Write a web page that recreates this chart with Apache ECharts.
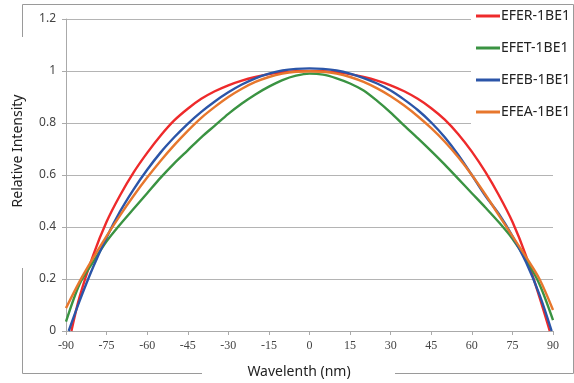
<!DOCTYPE html>
<html>
<head>
<meta charset="utf-8">
<script src="https://cdn.jsdelivr.net/npm/echarts@6/dist/echarts.min.js"></script>
<style>
  html, body { margin: 0; padding: 0; background: #fff; }
  #chart { width: 574px; height: 383px; }
</style>
</head>
<body>
<div id="chart"></div>
<script>
const seriesNames = ["EFER-1BE1", "EFET-1BE1", "EFEB-1BE1", "EFEA-1BE1"];
const colors = ["#ee2a2b", "#3a9342", "#2b55a8", "#e7772d"];

const xTicks = [-90, -75, -60, -45, -30, -15, 0, 15, 30, 45, 60, 75, 90];
const yTicks = [0, 0.2, 0.4, 0.6, 0.8, 1, 1.2];

// wavelength sample points (nm)
const wlStd = [-90, -85, -80, -75, -70, -65, -60, -55, -50, -45, -40, -35, -30, -25, -20, -15, -10, -5, 0,
  5, 10, 15, 20, 25, 30, 35, 40, 45, 50, 55, 60, 65, 70, 75, 80, 85, 90];
const wlRed = [-88, -85, -80, -75, -70, -65, -60, -55, -50, -45, -40, -35, -30, -25, -20, -15, -10, -5, 0,
  5, 10, 15, 20, 25, 30, 35, 40, 45, 50, 55, 60, 65, 70, 75, 80, 85, 88.8];
const wlBlue = [-89, -85, -80, -75, -70, -65, -60, -55, -50, -45, -40, -35, -30, -25, -20, -15, -10, -5, 0,
  5, 10, 15, 20, 25, 30, 35, 40, 45, 50, 55, 60, 65, 70, 75, 80, 85, 89.5];

const efer = [0, 0.13, 0.29, 0.42, 0.522, 0.61, 0.685, 0.752, 0.81, 0.855, 0.893, 0.922, 0.945, 0.963, 0.977, 0.988, 0.995, 0.999, 1.0,
  0.999, 0.995, 0.988, 0.977, 0.963, 0.945, 0.922, 0.893, 0.857, 0.813, 0.757, 0.69, 0.612, 0.522, 0.42, 0.29, 0.13, 0];
const efet = [0.036, 0.18, 0.265, 0.345, 0.41, 0.47, 0.53, 0.59, 0.645, 0.695, 0.745, 0.79, 0.835, 0.875, 0.91, 0.94, 0.965, 0.982, 0.99,
  0.986, 0.972, 0.952, 0.925, 0.885, 0.84, 0.79, 0.742, 0.692, 0.64, 0.585, 0.53, 0.475, 0.418, 0.355, 0.276, 0.18, 0.042];
const efeb = [0, 0.115, 0.245, 0.36, 0.46, 0.545, 0.62, 0.687, 0.745, 0.797, 0.843, 0.883, 0.918, 0.948, 0.972, 0.99, 1.002, 1.008, 1.01,
  1.008, 1.002, 0.99, 0.973, 0.952, 0.925, 0.89, 0.85, 0.802, 0.745, 0.677, 0.6, 0.52, 0.45, 0.365, 0.265, 0.14, 0];
const efea = [0.088, 0.19, 0.28, 0.365, 0.445, 0.52, 0.59, 0.655, 0.715, 0.77, 0.82, 0.862, 0.9, 0.932, 0.958, 0.977, 0.99, 0.997, 0.999,
  0.997, 0.99, 0.977, 0.958, 0.933, 0.903, 0.867, 0.826, 0.78, 0.728, 0.668, 0.6, 0.525, 0.445, 0.365, 0.285, 0.2, 0.081];

const pairs = (xs, ys) => xs.map((x, i) => [x, ys[i]]);
const seriesData = [pairs(wlRed, efer), pairs(wlStd, efet), pairs(wlBlue, efeb), pairs(wlStd, efea)];

const chart = echarts.init(document.getElementById("chart"));

const borderStyle = { stroke: "#9a9a9a", lineWidth: 1 };
const seg = (x1, y1, x2, y2) => ({ type: "line", z: 100, shape: { x1, y1, x2, y2 }, style: borderStyle });

chart.setOption({
  backgroundColor: "#fff",
  animation: false,
  color: colors,
  grid: { left: 66, right: 21, top: 19, bottom: 52 },
  legend: {
    orient: "vertical",
    left: 471,
    top: 5,
    padding: [2, 3, 14, 5],
    backgroundColor: "#fff",
    icon: "rect",
    itemWidth: 24,
    itemHeight: 3,
    itemGap: 14,
    z: 50,
    textStyle: { fontFamily: "Noto Sans", fontSize: 14, lineHeight: 18, color: "#222", padding: [0, 0, 0, -4] },
    data: seriesNames
  },
  xAxis: {
    type: "value",
    min: -90,
    max: 90,
    interval: 15,
    axisLine: { lineStyle: { color: "#aaa" } },
    axisTick: { show: true, length: 4, lineStyle: { color: "#aaa" } },
    splitLine: { show: false },
    axisLabel: {
      fontFamily: "Liberation Serif",
      fontSize: 12,
      color: "#444",
      margin: 9,
      formatter: (v) => (xTicks.includes(v) ? String(v) : "")
    }
  },
  yAxis: {
    type: "value",
    min: 0,
    max: 1.2,
    interval: 0.2,
    axisLine: { show: true, onZero: false, lineStyle: { color: "#aaa" } },
    axisTick: { show: true, length: 4, lineStyle: { color: "#aaa" } },
    splitLine: { show: true, lineStyle: { color: "#b4b4b4" } },
    axisLabel: {
      fontFamily: "Noto Sans",
      fontSize: 12,
      color: "#444",
      margin: 10,
      formatter: (v) => {
        const t = yTicks.find((k) => Math.abs(k - v) < 1e-6);
        return t === undefined ? "" : String(t);
      }
    }
  },
  graphic: [
    seg(22.5, 4.5, 573.5, 4.5),
    seg(573.5, 4.5, 573.5, 373.5),
    seg(22.5, 4.5, 22.5, 37),
    seg(22.5, 268, 22.5, 373.5),
    seg(22.5, 373.5, 202, 373.5),
    seg(395, 373.5, 573.5, 373.5),
    {
      type: "text",
      z: 100,
      x: 18,
      y: 151,
      rotation: Math.PI / 2,
      style: {
        text: "Relative Intensity",
        fontFamily: "Noto Sans",
        fontSize: 14,
        fill: "#222",
        align: "center",
        verticalAlign: "middle"
      }
    },
    {
      type: "text",
      z: 100,
      x: 299,
      y: 372,
      style: {
        text: "Wavelenth (nm)",
        fontFamily: "Noto Sans",
        fontSize: 14,
        fill: "#222",
        align: "center",
        verticalAlign: "middle"
      }
    }
  ],
  series: seriesNames.map((name, i) => ({
    name,
    type: "line",
    data: seriesData[i],
    smooth: 0.3,
    symbol: "none",
    clip: true,
    lineStyle: { width: 2.4, color: colors[i] },
    itemStyle: { color: colors[i] },
    emphasis: { disabled: true }
  }))
});
</script>
</body>
</html>
